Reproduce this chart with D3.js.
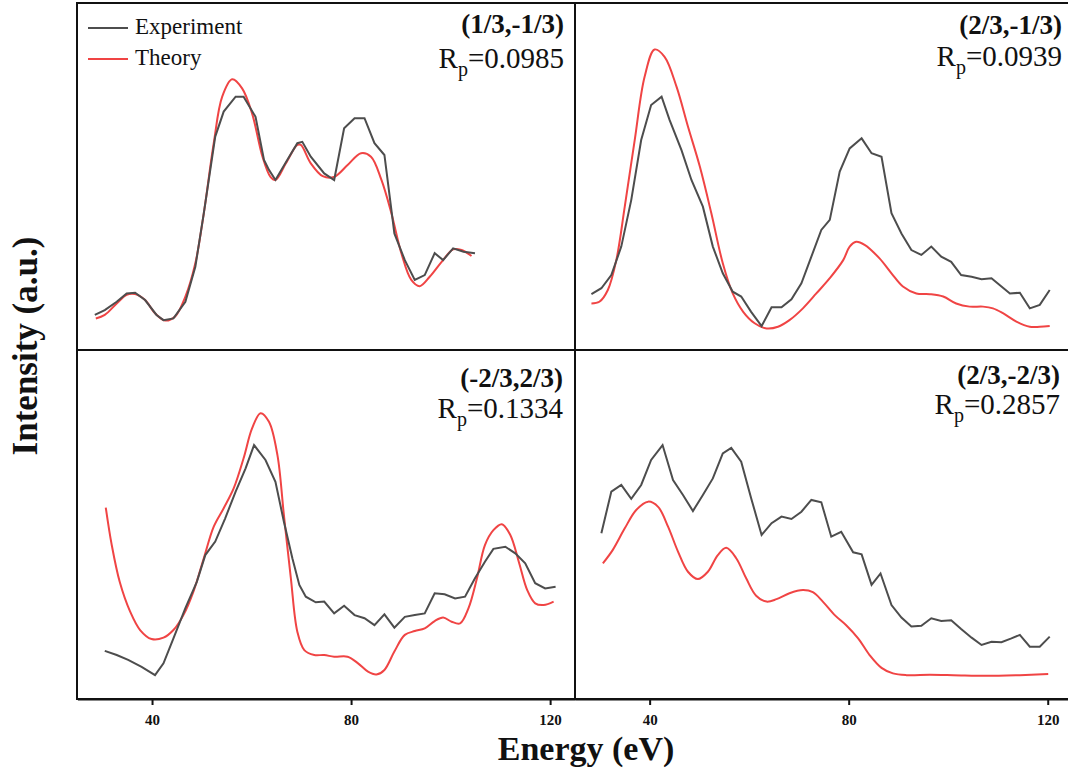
<!DOCTYPE html>
<html>
<head>
<meta charset="utf-8">
<script src="https://cdn.jsdelivr.net/npm/d3@7"></script>
<style>
  body { margin: 0; background: #fff; }
  svg text { font-family: "Liberation Serif", "Times New Roman", Times, "DejaVu Serif", serif; }
</style>
</head>
<body>
<div id="chart"></div>
<script>
// panel titles and R-factors
const PANEL_LABELS = ["(1/3,-1/3)", "(2/3,-1/3)", "(-2/3,2/3)", "(2/3,-2/3)"]
const RP_VALUES = ["0.0985", "0.0939", "0.1334", "0.2857"]
const X_TICKS = [40, 80, 120]

// [energy eV, intensity a.u.]
const expTL = [[28.5,10.1],[30.5,11.5],[32.9,13.9],[34.9,16.3],[36.6,16.5],[38.6,14.4],[40.9,10.1],[42.3,8.6],[44.3,9.1],[46.7,13.9],[48.7,24.0],[50.4,39.4],[52.7,61.5],[54.4,68.7],[56.8,73.0],[58.4,73.0],[60.8,67.2],[62.5,54.8],[63.5,51.9],[64.8,49.0],[67.2,54.8],[69.2,59.6],[70.2,60.0],[71.9,55.7],[74.6,50.9],[76.6,49.0],[78.6,63.9],[80.7,66.8],[82.7,66.8],[84.7,59.6],[86.7,56.2],[88.7,33.6],[90.8,25.9],[92.8,20.2],[94.8,21.6],[96.8,27.9],[98.5,25.9],[100.5,29.3],[102.6,28.3],[104.9,27.9]]
const theoTL = [[28.7,9.1],[30.5,10.1],[32.9,13.4],[34.9,15.9],[36.6,16.1],[38.6,14.4],[40.6,10.6],[42.6,8.5],[44.6,9.6],[46.7,15.4],[48.7,25.0],[50.4,39.4],[52.4,59.6],[54.1,73.0],[56.1,78.0],[58.1,75.4],[60.1,68.2],[62.2,55.7],[63.8,49.9],[64.8,49.0],[66.9,53.8],[69.2,59.1],[69.9,59.1],[71.9,53.8],[74.3,50.1],[76.6,49.9],[79.3,53.3],[82.0,56.7],[84.0,55.7],[86.1,49.0],[88.1,39.4],[90.1,27.9],[92.1,20.2],[93.8,18.4],[95.8,21.1],[98.2,25.4],[100.5,29.0],[102.2,28.8],[104.2,27.1]]

const expTR = [[28.3,16.1],[30.3,17.8],[32.3,21.6],[34.3,29.8],[36.3,43.2],[38.3,60.5],[40.3,70.6],[42.4,73.0],[44.0,66.3],[46.4,57.6],[48.4,49.0],[50.7,41.3],[52.7,29.8],[54.7,22.1],[56.7,16.8],[58.4,15.4],[60.4,11.0],[62.5,6.9],[64.5,12.3],[66.5,12.3],[68.5,14.6],[70.5,19.2],[72.5,26.9],[74.5,34.6],[76.2,37.5],[78.2,51.4],[80.2,58.1],[82.6,61.0],[84.6,56.7],[86.6,55.7],[88.6,39.4],[90.6,33.6],[92.6,28.8],[94.6,27.4],[96.6,29.8],[98.6,26.9],[100.6,25.4],[102.6,21.6],[104.7,21.1],[106.7,20.4],[108.7,20.7],[110.7,18.3],[112.4,16.3],[114.4,16.5],[116.4,12.0],[118.4,13.0],[120.4,17.3]]
const theoTR = [[28.3,13.4],[29.9,13.9],[31.6,17.3],[33.3,25.9],[35.0,41.3],[37.0,60.5],[39.0,78.8],[41.0,86.6],[43.0,84.5],[45.4,75.9],[47.7,64.4],[50.1,52.8],[52.4,39.4],[54.7,25.0],[56.7,16.3],[58.8,11.0],[61.1,7.7],[63.5,6.2],[65.8,6.7],[68.1,8.6],[70.8,12.0],[73.5,16.3],[76.2,20.7],[78.9,25.9],[80.2,29.8],[81.5,31.2],[83.2,30.3],[86.2,26.4],[88.6,22.1],[90.9,18.3],[93.6,16.3],[96.3,16.1],[99.0,15.4],[101.6,13.4],[104.3,12.5],[107.0,12.5],[109.0,12.0],[111.0,10.6],[113.7,8.2],[116.4,6.7],[118.4,6.7],[120.4,6.9]]

const expBL = [[30.5,13.3],[32.9,12.1],[35.2,10.7],[37.9,8.7],[40.6,6.3],[42.3,9.7],[44.3,16.9],[46.7,25.6],[49.0,33.2],[50.7,40.9],[52.7,44.8],[54.7,51.5],[56.8,59.2],[58.8,65.9],[60.5,72.6],[62.8,68.3],[64.8,62.0],[66.5,50.5],[68.2,40.0],[69.6,32.3],[70.9,28.9],[72.9,27.3],[74.6,27.5],[76.6,24.1],[78.6,26.3],[80.7,23.6],[82.7,22.7],[84.7,20.7],[86.7,23.8],[88.7,20.0],[90.8,23.1],[92.8,23.6],[94.8,24.1],[96.8,29.9],[98.8,29.6],[100.9,28.4],[102.9,28.9],[104.9,34.2],[106.9,39.0],[108.6,42.7],[111.0,43.3],[113.0,41.4],[115.0,38.5],[117.0,32.8],[119.0,31.3],[121.1,31.8]]
const theoBL = [[30.7,54.6],[31.9,43.8],[33.5,33.2],[35.6,24.6],[37.6,19.3],[39.9,16.7],[42.3,17.1],[44.3,19.3],[46.3,23.6],[48.3,30.3],[50.4,40.0],[52.4,49.1],[54.4,54.4],[56.4,60.1],[58.4,68.8],[60.1,77.4],[61.8,81.8],[63.5,79.3],[65.2,69.7],[66.5,52.4],[67.9,34.2],[69.2,18.8],[70.6,13.5],[72.6,12.1],[74.6,12.1],[76.6,11.6],[79.3,11.6],[81.4,9.7],[83.4,7.3],[85.1,6.5],[86.7,7.8],[88.7,13.1],[90.8,17.9],[92.8,19.0],[94.8,19.8],[96.8,21.9],[98.5,22.9],[100.2,21.7],[101.9,21.2],[103.6,25.6],[105.3,34.2],[106.9,43.8],[108.6,48.1],[110.3,49.8],[112.0,46.7],[113.7,39.0],[115.4,30.8],[117.0,27.0],[118.7,26.5],[120.7,27.5]]

const expBR = [[30.3,47.2],[32.3,59.2],[34.3,61.1],[36.3,57.1],[38.3,61.1],[40.3,68.3],[42.6,72.6],[44.7,62.5],[46.7,58.2],[48.7,53.6],[50.7,58.2],[52.7,63.0],[54.7,70.2],[56.4,71.8],[58.4,67.8],[60.4,57.3],[62.5,46.7],[64.5,50.1],[66.5,52.0],[68.5,51.3],[70.5,53.4],[72.5,56.8],[74.5,56.1],[76.5,46.2],[78.5,47.6],[80.9,41.7],[82.6,41.1],[84.6,32.3],[86.4,35.6],[88.6,26.5],[90.6,22.9],[92.6,20.3],[94.6,20.5],[96.6,22.7],[98.6,21.9],[100.6,22.1],[102.6,19.6],[104.7,17.1],[106.7,15.0],[108.7,15.9],[110.7,15.8],[112.7,16.9],[114.4,17.9],[116.4,14.5],[118.4,14.5],[120.4,17.4]]
const theoBR = [[30.6,38.5],[32.6,42.4],[35.0,48.6],[37.3,53.9],[39.7,56.3],[41.7,54.8],[43.7,49.1],[45.7,41.9],[47.7,36.1],[49.7,34.0],[51.7,36.1],[53.7,40.9],[55.4,43.0],[57.4,40.0],[59.4,34.2],[61.4,29.2],[63.5,27.5],[65.5,28.2],[68.1,29.9],[70.8,30.8],[72.8,30.2],[74.8,27.5],[77.2,23.6],[79.5,20.7],[81.9,16.9],[84.2,12.1],[86.6,8.4],[88.9,6.8],[91.6,6.3],[96.3,6.4],[101.0,6.3],[107.7,6.1],[114.4,6.3],[120.1,6.6]]

const EXP_COLOR = "#4d4d4d"
const THEO_COLOR = "#f04444"
const SERIF = "'Liberation Serif', 'Times New Roman', Times, 'DejaVu Serif', serif"

const width = 1068, height = 775
const svg = d3.select("#chart").append("svg")
    .attr("width", width)
    .attr("height", height)
    .attr("font-family", SERIF)

// grid of panels: left col / right col, top row / bottom row
const cols = [[77.4, 575], [575, 1072.6]]
const rows = [[350, 3], [697, 350]]

const panels = [
    { exp: expTL, theo: theoTL, c: 0, r: 0, labY: 33, rpY: 68, labX: 564 },
    { exp: expTR, theo: theoTR, c: 1, r: 0, labY: 34, rpY: 66, labX: 1062 },
    { exp: expBL, theo: theoBL, c: 0, r: 1, labY: 387, rpY: 418, labX: 563 },
    { exp: expBR, theo: theoBR, c: 1, r: 1, labY: 384, rpY: 414, labX: 1060 }
]

panels.forEach((p, i) => {
    const x = d3.scaleLinear().domain([25, 125]).range(cols[p.c])
    const y = d3.scaleLinear().domain([0, 100]).range(rows[p.r])

    const expLine = d3.line().x(d => x(d[0])).y(d => y(d[1]))
    const theoLine = d3.line().x(d => x(d[0])).y(d => y(d[1])).curve(d3.curveCatmullRom.alpha(0.5))

    svg.append("path")
        .datum(p.theo)
        .attr("d", theoLine)
        .attr("fill", "none")
        .attr("stroke", THEO_COLOR)
        .attr("stroke-width", 2)

    svg.append("path")
        .datum(p.exp)
        .attr("d", expLine)
        .attr("fill", "none")
        .attr("stroke", EXP_COLOR)
        .attr("stroke-width", 2)

    // panel title
    svg.append("text")
        .attr("x", p.labX)
        .attr("y", p.labY)
        .attr("text-anchor", "end")
        .attr("font-weight", "bold")
        .attr("font-size", 27)
        .attr("fill", "#111")
        .text(PANEL_LABELS[i])

    const rp = svg.append("text")
        .attr("x", p.labX)
        .attr("y", p.rpY)
        .attr("text-anchor", "end")
        .attr("font-size", 29)
        .attr("fill", "#111")
    rp.append("tspan").text("R")
    rp.append("tspan").attr("font-size", 20).attr("dy", 8).text("p")
    rp.append("tspan").attr("dy", -8).text("=" + RP_VALUES[i])

    // bottom axis only on the lower row
    if (p.r === 1) {
        const axis = svg.append("g")
            .attr("transform", "translate(0,699)")
            .call(d3.axisBottom(x).tickValues(X_TICKS).tickSize(6).tickSizeOuter(0))
        axis.attr("font-family", null)
        axis.select(".domain").attr("stroke", "#111").attr("stroke-width", 2)
        axis.selectAll(".tick line").attr("stroke", "#111").attr("stroke-width", 2)
        axis.selectAll(".tick text")
            .attr("font-weight", "bold")
            .attr("font-size", 15)
            .attr("fill", "#111")
            .attr("dy", "1.1em")
    }
})

// frame and dividers
const frame = svg.append("g").attr("stroke", "#111").attr("stroke-width", 2).attr("fill", "none")
frame.append("rect").attr("x", 77).attr("y", 3).attr("width", 1000).attr("height", 696)
frame.append("line").attr("x1", 575).attr("x2", 575).attr("y1", 3).attr("y2", 699)
frame.append("line").attr("x1", 77).attr("x2", 1077).attr("y1", 350).attr("y2", 350)

// legend in first panel
const legend = [["Experiment", EXP_COLOR, 28, 34], ["Theory", THEO_COLOR, 59, 65]]
legend.forEach(l => {
    svg.append("line")
        .attr("x1", 88).attr("x2", 128)
        .attr("y1", l[2]).attr("y2", l[2])
        .attr("stroke", l[1]).attr("stroke-width", 2)
    svg.append("text")
        .attr("x", 135).attr("y", l[3])
        .attr("font-size", 23)
        .attr("fill", "#111")
        .text(l[0])
})

// axis titles
svg.append("text")
    .attr("x", 586).attr("y", 760)
    .attr("text-anchor", "middle")
    .attr("font-weight", "bold")
    .attr("font-size", 34)
    .attr("fill", "#111")
    .text("Energy (eV)")

svg.append("text")
    .attr("transform", "translate(37,346) rotate(-90)")
    .attr("text-anchor", "middle")
    .attr("font-weight", "bold")
    .attr("font-size", 35)
    .attr("fill", "#111")
    .text("Intensity (a.u.)")
</script>
</body>
</html>
